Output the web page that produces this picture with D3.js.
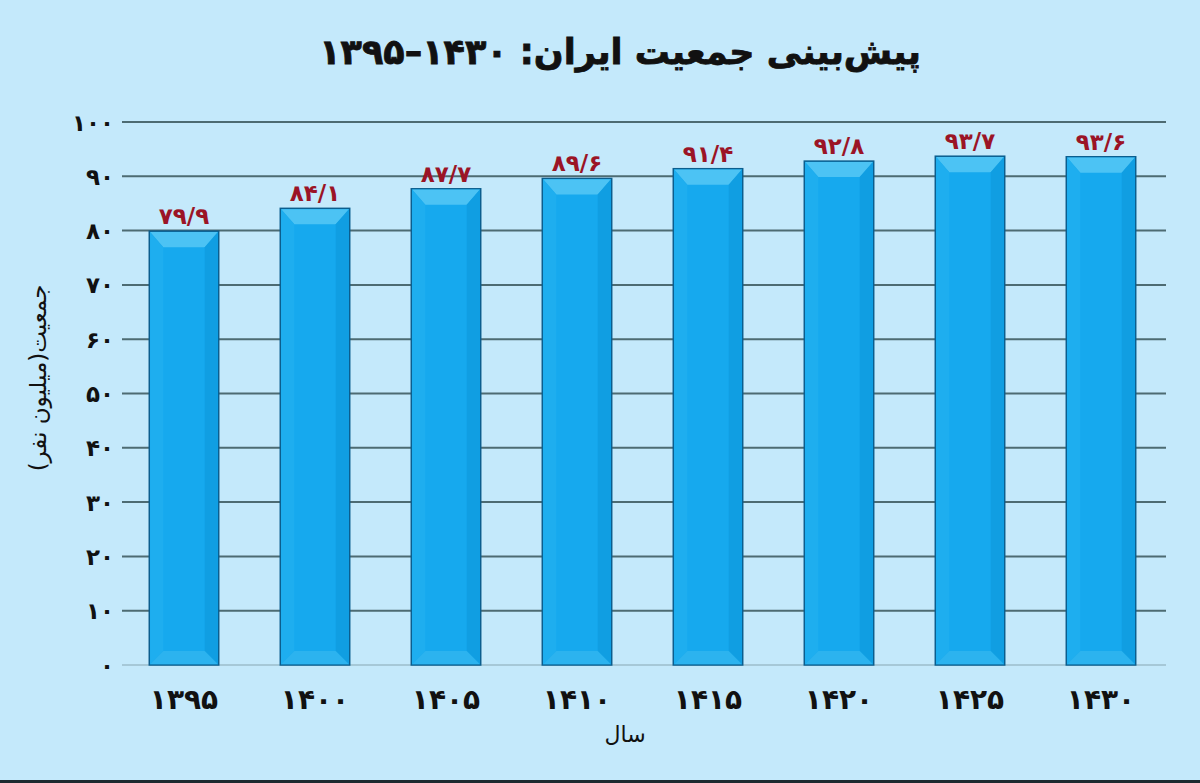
<!DOCTYPE html>
<html>
<head>
<meta charset="utf-8">
<script src="https://cdn.jsdelivr.net/npm/d3@7/dist/d3.min.js"></script>
<style>
  html, body { margin: 0; padding: 0; background: #c4e9fb; }
  svg { display: block; }
  text { font-family: "DejaVu Sans", sans-serif; }
</style>
</head>
<body>
<div id="chart"></div>
<script>
// chart data
const years = ['۱۳۹۵', '۱۴۰۰', '۱۴۰۵', '۱۴۱۰', '۱۴۱۵', '۱۴۲۰', '۱۴۲۵', '۱۴۳۰']
const population = [79.9, 84.1, 87.7, 89.6, 91.4, 92.8, 93.7, 93.6]
const valueLabels = ['۷۹/۹', '۸۴/۱', '۸۷/۷', '۸۹/۶', '۹۱/۴', '۹۲/۸', '۹۳/۷', '۹۳/۶']
const yTicks = [0, 10, 20, 30, 40, 50, 60, 70, 80, 90, 100]
const yTickLabels = ['۰', '۱۰', '۲۰', '۳۰', '۴۰', '۵۰', '۶۰', '۷۰', '۸۰', '۹۰', '۱۰۰']

const title = 'پیش‌بینی جمعیت ایران: ۱۴۳۰–۱۳۹۵'
const yTitle = 'جمعیت(میلیون نفر)'
const xTitle = 'سال'

const width = 1200
const height = 783

// plot area
const plot = { left: 122, right: 1166, top: 122, bottom: 665 }

const xScale = d3.scaleBand()
  .domain(years)
  .range([118.5, 1166.5])
  .paddingInner(0.47)
  .paddingOuter(0.235)

const yScale = d3.scaleLinear().domain([0, 100]).range([plot.bottom, plot.top])

const svg = d3.select('#chart').append('svg')
  .attr('width', width)
  .attr('height', height)

svg.append('rect').attr('width', width).attr('height', height).attr('fill', '#c4e9fb')
// dark strip at the very bottom edge
svg.append('rect').attr('x', 0).attr('y', height - 3).attr('width', width).attr('height', 3).attr('fill', '#1c2a30')

// title
svg.append('text')
  .attr('x', 620)
  .attr('y', 64)
  .attr('text-anchor', 'middle')
  .attr('direction', 'rtl')
  .attr('font-size', 35)
  .attr('font-weight', 'bold')
  .attr('fill', '#111')
  .attr('stroke', '#111')
  .attr('stroke-width', 0.8)
  .text(title)

// gridlines
const grid = svg.append('g').attr('class', 'grid')
grid.selectAll('line').data(yTicks).enter().append('line')
  .attr('x1', plot.left)
  .attr('x2', plot.right)
  .attr('y1', d => yScale(d))
  .attr('y2', d => yScale(d))
  .attr('stroke', d => d === 0 ? '#9cbccb' : '#4d6b72')
  .attr('stroke-width', d => d === 0 ? 1.5 : 2)

// y tick labels
const yAxis = d3.axisLeft(yScale).tickValues(yTicks).tickSize(0).tickPadding(0)
  .tickFormat((d, i) => yTickLabels[i])
const yAxisG = svg.append('g').attr('transform', 'translate(114,0)').call(yAxis)
yAxisG.select('.domain').remove()
yAxisG.selectAll('text')
  .attr('font-size', 23)
  .attr('font-weight', 'bold')
  .attr('fill', '#111')
  .attr('dy', '0.35em')
  .style('font-family', '"DejaVu Sans", sans-serif')

// bars
const bw = xScale.bandwidth()
const bars = svg.append('g').attr('class', 'bars')
  .selectAll('g').data(population).enter().append('g')
  .attr('transform', (d, i) => `translate(${xScale(years[i])},0)`)

bars.append('rect')
  .attr('x', 0)
  .attr('y', d => yScale(d))
  .attr('width', bw)
  .attr('height', d => plot.bottom - yScale(d))
  .attr('fill', '#16a9ee')
  .attr('stroke', '#0b5e8e')
  .attr('stroke-width', 1.5)

// bevel on top
bars.append('path')
  .attr('d', d => {
    const y0 = yScale(d)
    return `M0.8,${y0 + 0.8} L${bw - 0.8},${y0 + 0.8} L${bw - 14},${y0 + 16} L14,${y0 + 16} Z`
  })
  .attr('fill', '#4cc3f4')

// bevel sides
bars.append('path')
  .attr('d', d => {
    const y0 = yScale(d)
    return `M0.8,${y0 + 0.8} L14,${y0 + 16} L14,${plot.bottom - 14} L0.8,${plot.bottom - 0.8} Z`
  })
  .attr('fill', '#1eaeef')
bars.append('path')
  .attr('d', d => {
    const y0 = yScale(d)
    return `M${bw - 0.8},${y0 + 0.8} L${bw - 14},${y0 + 16} L${bw - 14},${plot.bottom - 14} L${bw - 0.8},${plot.bottom - 0.8} Z`
  })
  .attr('fill', '#109ee2')
// bevel bottom
bars.append('path')
  .attr('d', `M0.8,${plot.bottom - 0.8} L14,${plot.bottom - 14} L${bw - 14},${plot.bottom - 14} L${bw - 0.8},${plot.bottom - 0.8} Z`)
  .attr('fill', '#2cb3ef')

// value labels
bars.append('text')
  .attr('x', bw / 2)
  .attr('y', d => yScale(d) - 7)
  .attr('text-anchor', 'middle')
  .attr('font-size', 23)
  .attr('font-weight', 'bold')
  .attr('letter-spacing', 1.5)
  .attr('fill', '#9b1426')
  .text((d, i) => valueLabels[i])

// x axis labels
const xAxis = d3.axisBottom(xScale).tickSize(0).tickPadding(0)
const xAxisG = svg.append('g').attr('transform', `translate(0,${plot.bottom + 22})`).call(xAxis)
xAxisG.select('.domain').remove()
xAxisG.selectAll('text')
  .attr('font-size', 28)
  .attr('font-weight', 'bold')
  .attr('letter-spacing', 3)
  .attr('fill', '#111')
  .attr('dy', '0.8em')
  .style('font-family', '"DejaVu Sans", sans-serif')

// axis titles
svg.append('text')
  .attr('x', 625)
  .attr('y', 742)
  .attr('text-anchor', 'middle')
  .attr('direction', 'rtl')
  .attr('font-size', 22)
  .attr('fill', '#111')
  .text(xTitle)

svg.append('text')
  .attr('transform', 'translate(46,378) rotate(-90)')
  .attr('text-anchor', 'middle')
  .attr('direction', 'rtl')
  .attr('font-size', 23)
  .attr('fill', '#111')
  .text(yTitle)
</script>
</body>
</html>
